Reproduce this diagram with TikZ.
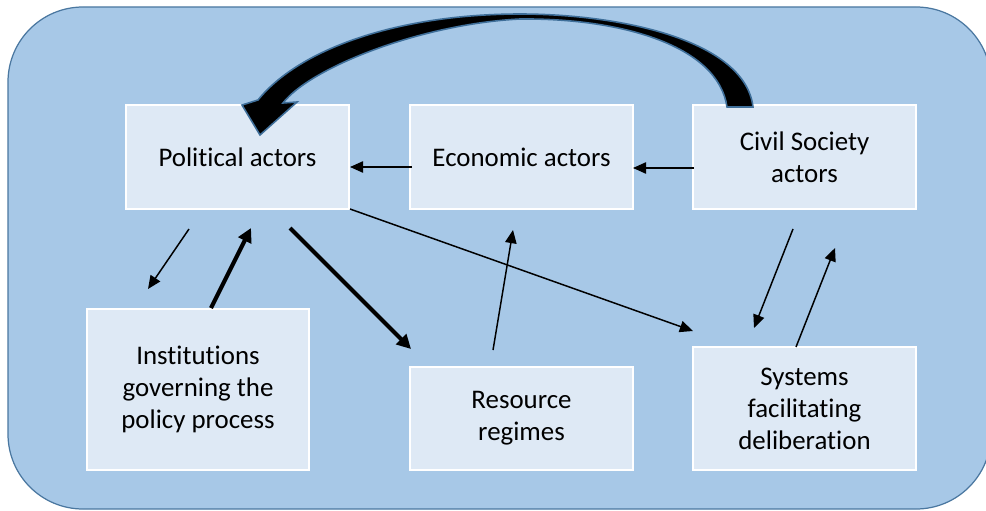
\documentclass[tikz,border=0pt]{standalone}
\usepackage{fontspec}
\setmainfont{Carlito}[Ligatures=NoCommon]
\usetikzlibrary{arrows.meta,calc}
\definecolor{bgfill}{HTML}{A7C8E7}
\definecolor{bgline}{HTML}{4A77A0}
\definecolor{boxfill}{HTML}{DEE9F5}
\definecolor{bigline}{HTML}{3F6F9A}
\tikzset{
  box/.style={draw=white, line width=1.4pt, fill=boxfill, inner sep=0pt, align=center,
    font=\fontsize{15.3}{18.2}\selectfont, text=black},
  thinarr/.style={line width=0.85pt, -{Triangle[length=7.5pt,width=6.5pt]}},
  thickarr/.style={line width=2.3pt, -{Triangle[length=8pt,width=8pt]}},
}
\begin{document}
\begin{tikzpicture}[x=0.02cm,y=-0.02cm]
\useasboundingbox (0,0) rectangle (986,510);
\clip (0,0) rectangle (986,510);
\draw[bgline, fill=bgfill, line width=0.7pt, rounded corners=1.5cm] (8,7) rectangle (991,509);

\node[box, minimum width=4.46cm, minimum height=2.08cm] (pol) at (237.5,157) {Political actors};
\node[box, minimum width=4.46cm, minimum height=2.08cm] (eco) at (521.5,157) {Economic actors};
\node[box, minimum width=4.46cm, minimum height=2.08cm] (civ) at (804.5,157) {Civil Society\\actors};
\node[box, minimum width=4.44cm, minimum height=3.22cm] (ins) at (198,389.5) {Institutions\\governing the\\policy process};
\node[box, minimum width=4.46cm, minimum height=2.06cm] (res) at (521.5,418.5) {Resource\\regimes};
\node[box, minimum width=4.46cm, minimum height=2.46cm] (sys) at (804.5,408.5) {Systems\\facilitating\\deliberation};

% connector end points
\coordinate (ecoOut) at (412,167);
\coordinate (polIn) at (350,167);
\coordinate (civOut) at (694,168);
\coordinate (ecoIn) at (633,168);
\coordinate (polA) at (189,229);
\coordinate (insA) at (148,289);
\coordinate (insB) at (211,308);
\coordinate (polB) at (251,228);
\coordinate (polC) at (290,228);
\coordinate (resC) at (411,349);
\coordinate (polD) at (350,209);
\coordinate (sysD) at (693,331);
\coordinate (resE) at (493,350);
\coordinate (ecoE) at (513,230);
\coordinate (civF) at (793,229);
\coordinate (sysF) at (754,328);
\coordinate (sysG) at (796,347);
\coordinate (civG) at (835,248);

\draw[thinarr] (ecoOut) -- (polIn);
\draw[thinarr] (civOut) -- (ecoIn);
\draw[thinarr] (polA) -- (insA);
\draw[thickarr] (insB) -- (polB);
\draw[thickarr] (polC) -- (resC);
\draw[thinarr] (polD) -- (sysD);
\draw[thinarr] (resE) -- (ecoE);
\draw[thinarr] (civF) -- (sysF);
\draw[thinarr] (sysG) -- (civG);

% big curved arrow from Civil Society actors to Political actors
\coordinate (tailL) at (727,107);
\coordinate (tailR) at (753,107);
\coordinate (tip) at (260,135);
\draw[fill=black, draw=bigline, line width=0.9pt, line join=miter]
  (tailR) .. controls (745,40) and (620,14) .. (520,14)
  .. controls (400,14) and (300,48) .. (258,100)
  -- (242,105) -- (tip) -- (297,102) -- (283,103)
  .. controls (310,68) and (420,24) .. (520,19)
  .. controls (620,18) and (718,45) .. (tailL) -- cycle;
\end{tikzpicture}
\end{document}
